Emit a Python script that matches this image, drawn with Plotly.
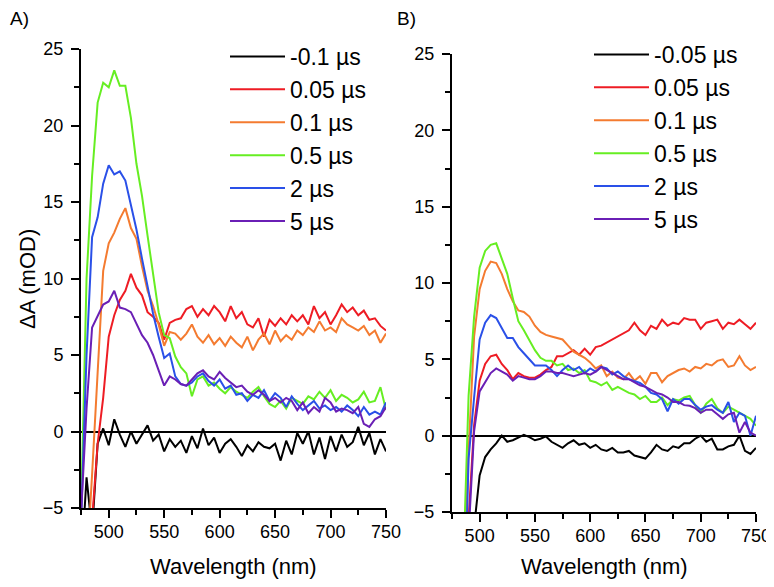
import plotly.graph_objects as go

# wavelength grid (nm)
wavelength = list(range(475, 755, 5))

# ---- Panel A ----
a_labels = ["-0.1 \u00b5s", "0.05 \u00b5s", "0.1 \u00b5s", "0.5 \u00b5s", "2 \u00b5s", "5 \u00b5s"]
a_m01 = [-9, -3.0, -6.5, -0.8, 0.2, -0.9, 0.8, -0.2, -1.0, 0.0, -0.8, -0.2, 0.4, -0.6, -0.2, -1.3,
         -0.5, -1.0, -0.6, -1.4, -0.3, -1.1, 0.2, -0.9, -0.4, -1.4, -0.8, -0.5, -1.0, -1.6, -0.9,
         -1.3, -0.7, -1.0, -1.1, -0.8, -1.9, -0.6, -1.5, -0.1, -0.8, 0.0, -1.5, -0.4, -1.8, -0.3,
         -1.3, -0.2, -1.0, -0.7, 0.3, -0.9, -0.1, -1.5, -0.5, -1.3]
a_005 = [-20, -12, -5.8, -0.8, 2.2, 6.2, 7.6, 8.6, 9.2, 10.3, 9.4, 8.9, 7.8, 7.5, 7.1, 6.0,
         7.1, 7.3, 7.4, 8.0, 8.2, 7.5, 8.0, 7.6, 8.2, 7.8, 7.2, 8.2, 7.4, 7.8, 7.0,
         6.8, 7.4, 6.2, 7.3, 6.9, 7.4, 7.0, 7.6, 7.2, 7.6, 7.0, 8.2, 7.4, 7.8, 7.0,
         7.6, 8.3, 7.8, 8.1, 7.6, 7.9, 7.3, 7.4, 6.9, 6.6]
a_01 = [-20, -9, -2.8, 3.8, 10.5, 12.3, 13.0, 13.9, 14.6, 13.3, 12.6, 10.8, 9.2, 8.2, 7.0, 5.6,
        6.5, 6.4, 6.0, 6.4, 7.0, 6.2, 5.8, 6.3, 5.7, 6.1, 5.6, 6.2, 5.8, 5.5, 6.2,
        5.3, 6.0, 6.4, 5.7, 6.6, 5.9, 6.3, 6.0, 6.6, 6.3, 6.8, 6.5, 7.2, 6.6, 6.8,
        6.5, 7.4, 7.0, 6.8, 6.6, 6.9, 6.3, 6.6, 5.8, 6.4]
a_05 = [-5.5, 10.0, 16.7, 21.5, 22.8, 22.5, 23.6, 22.6, 22.6, 20.5, 17.5, 15.4, 12.8, 10.2, 7.8, 6.3,
        6.1, 4.9, 4.2, 3.8, 2.3, 3.4, 3.6, 3.0, 3.2, 2.8, 2.5, 2.9, 2.6, 2.4, 2.2,
        2.6, 2.9, 2.3, 1.8, 1.6, 2.0, 1.5, 2.2, 2.0, 1.8, 2.3, 2.1, 2.6, 2.2, 2.7,
        2.0, 2.4, 2.2, 1.9, 2.1, 2.6, 1.9, 2.0, 2.9, 1.4]
a_2 = [-6, 5.0, 12.7, 14.0, 16.2, 17.4, 16.8, 17.0, 16.4, 14.8, 13.2, 11.3, 9.4, 7.7, 6.2, 4.8,
       5.1, 3.6, 3.1, 3.0, 3.2, 3.6, 3.8, 3.3, 3.0, 3.4, 2.8, 3.0, 2.4, 2.5, 2.0,
       2.4, 2.2, 2.7, 2.0, 2.5, 2.2, 1.6, 2.3, 1.8, 1.4, 1.7, 2.0, 1.5, 1.7, 1.4,
       1.6, 1.3, 1.7, 1.4, 1.0, 1.6, 1.1, 1.3, 1.1, 1.9]
a_5 = [-5.5, 1.5, 6.8, 7.5, 8.3, 8.5, 9.2, 8.1, 8.0, 7.8, 7.0, 6.3, 5.8, 5.0, 4.0, 3.0,
       3.6, 3.4, 3.1, 3.0, 3.4, 3.8, 4.0, 3.6, 3.4, 3.9, 3.5, 3.2, 2.9, 3.0, 2.6,
       2.4, 2.7, 2.4, 2.0, 2.2, 1.9, 2.2, 2.0, 1.4, 1.9, 1.2, 1.6, 1.3, 2.2, 1.9,
       1.3, 1.5, 1.4, 1.2, 1.6, 0.5, 0.3, 0.8, 1.0, 1.6]

# ---- Panel B ----
b_labels = ["-0.05 \u00b5s", "0.05 \u00b5s", "0.1 \u00b5s", "0.5 \u00b5s", "2 \u00b5s", "5 \u00b5s"]
b_m005 = [-20, -20, -20, -15, -6, -2.6, -1.4, -0.9, -0.5, 0.0, -0.4, -0.3, -0.1, 0.05, -0.1, -0.3,
          -0.2, -0.05, -0.4, -0.6, -0.8, -0.5, -0.3, -0.6, -0.5, -0.8, -0.6, -0.9, -1.0, -0.8, -1.1,
          -1.1, -1.0, -1.3, -1.4, -1.5, -1.1, -0.6, -0.9, -1.0, -0.7, -0.8, -0.5, -0.5, -0.2, 0.0,
          -0.4, -0.2, -0.9, -0.9, -0.7, -0.6, 0.0, -1.0, -1.2, -0.8]
b_005 = [-20, -20, -15, -5.5, 0.7, 3.6, 4.7, 5.2, 5.3, 4.7, 4.3, 3.7, 4.1, 3.9, 3.8, 3.8,
         4.0, 4.3, 4.5, 5.2, 5.2, 5.4, 5.6, 5.3, 5.7, 5.3, 5.8, 5.9, 6.1, 6.3, 6.5,
         6.75, 6.9, 7.4, 6.9, 6.6, 7.2, 7.0, 7.6, 7.2, 7.4, 7.3, 7.7, 7.6, 7.6, 7.0,
         7.4, 7.5, 7.6, 7.0, 7.4, 7.3, 7.6, 7.3, 7.0, 7.4]
b_01 = [-20, -20, -12, -1.0, 6.5, 9.6, 10.8, 11.4, 11.3, 10.6, 9.6, 8.8, 8.2, 8.1, 7.8, 7.2,
        6.8, 6.6, 6.5, 6.4, 6.3, 5.9, 5.5, 5.3, 5.1, 4.8, 4.4, 4.6, 3.9, 4.2, 3.8,
        3.7, 4.1, 3.6, 3.9, 3.4, 4.1, 4.1, 3.5, 3.9, 4.1, 4.3, 4.4, 4.2, 4.5, 4.4,
        4.7, 4.6, 4.9, 5.0, 4.5, 4.6, 5.2, 4.6, 4.3, 4.5]
b_05 = [-20, -20, -9, 2.6, 7.8, 11.0, 12.1, 12.5, 12.6, 11.6, 10.6, 9.0, 7.5, 6.9, 6.2, 5.6,
        5.1, 4.9, 4.9, 4.6, 4.7, 4.3, 4.4, 4.1, 4.3, 3.6, 3.5, 3.3, 3.5, 3.0, 3.2,
        3.0, 2.8, 2.7, 2.4, 2.6, 2.2, 2.2, 2.5, 2.0, 2.4, 2.3, 2.5, 2.6, 2.0, 1.5,
        2.1, 2.4, 1.8, 1.5, 1.9, 1.7, 1.5, 1.3, 1.1, 0.65]
b_2 = [-20, -20, -15, -1.5, 2.5, 6.3, 7.4, 7.9, 7.7, 7.0, 6.4, 6.4, 5.8, 5.4, 5.0, 4.6,
       4.6, 4.6, 4.3, 3.9, 4.3, 4.6, 4.3, 4.5, 4.1, 4.4, 4.2, 4.5, 4.4, 4.0, 4.2,
       3.9, 3.7, 3.6, 3.45, 3.2, 2.8, 2.7, 2.4, 1.6, 2.4, 2.1, 2.4, 2.4, 2.0, 1.7,
       1.9, 2.0, 1.7, 1.5, 2.2, 0.9, 1.5, 1.3, 0.0, 1.3]
b_5 = [-20, -20, -20, -6.5, 0.3, 2.9, 3.5, 4.1, 4.4, 4.2, 4.0, 3.6, 3.9, 3.8, 3.7, 3.7,
       3.9, 4.2, 4.2, 4.1, 4.1, 4.0, 3.9, 4.0, 4.1, 4.0, 4.2, 4.5, 4.3, 4.1, 3.9,
       3.7, 3.7, 3.5, 3.3, 3.2, 3.0, 2.8, 2.7, 2.5, 2.2, 2.2, 2.0, 1.96, 1.8, 1.5,
       1.7, 1.7, 1.4, 1.1, 1.4, 1.5, 0.2, 0.9, 0.2, 0.0]

colors = ["#000000", "#ee1c24", "#f47b30", "#66ee22", "#2a50e8", "#6a1fb5"]

a_series = [a_m01, a_005, a_01, a_05, a_2, a_5]
b_series = [b_m005, b_005, b_01, b_05, b_2, b_5]

fig = go.Figure()
for i, (lab, ys) in enumerate(zip(a_labels, a_series)):
    fig.add_trace(go.Scatter(x=wavelength, y=ys, mode="lines", name=lab,
                             line=dict(color=colors[i], width=2),
                             xaxis="x", yaxis="y", legend="legend",
                             legendgroup="a%d" % i))
for i, (lab, ys) in enumerate(zip(b_labels, b_series)):
    fig.add_trace(go.Scatter(x=wavelength, y=ys, mode="lines", name=lab,
                             line=dict(color=colors[i], width=2),
                             xaxis="x2", yaxis="y2", legend="legend2",
                             legendgroup="b%d" % i))

# The page puts the figure 8 px in from the top-left corner of the window,
# so the layout is laid out in window pixels minus that offset.
OFF = 8
W, H = 774 - OFF, 587 - OFF
font = "Arial, Liberation Sans, sans-serif"

def px(x):
    return (x - OFF) / W

def py(y):
    return 1 - (y - OFF) / H

def xax(domain, anchor):
    return dict(domain=domain, anchor=anchor, range=[475, 750], tick0=500, dtick=50,
                showline=True, linecolor="black", linewidth=2, ticks="outside",
                ticklen=8, tickwidth=1.5, tickcolor="black", showgrid=False,
                zeroline=False, tickfont=dict(size=18, color="black"),
                automargin=False, ticklabelstandoff=-2,
                minor=dict(dtick=25, tick0=475, ticks="outside", ticklen=5,
                           tickwidth=1.5, tickcolor="black", showgrid=False))

def yax(domain, anchor):
    return dict(domain=domain, anchor=anchor, range=[-5, 25], tick0=0, dtick=5,
                showline=True, linecolor="black", linewidth=2, ticks="outside",
                ticklen=8, tickwidth=1.5, tickcolor="black", showgrid=False,
                zeroline=True, zerolinecolor="black", zerolinewidth=1.5,
                tickfont=dict(size=18, color="black"),
                automargin=False, ticklabelstandoff=4,
                minor=dict(dtick=2.5, ticks="outside", ticklen=5,
                           tickwidth=1.5, tickcolor="black", showgrid=False))

legend_common = dict(font=dict(size=23, color="black", family=font),
                     bgcolor="rgba(0,0,0,0)", borderwidth=0, xanchor="left",
                     yanchor="top", tracegroupgap=0, itemwidth=55,
                     traceorder="normal")

fig.update_layout(
    width=W, height=H, margin=dict(l=0, r=0, t=0, b=0, pad=0, autoexpand=False),
    autosize=False,
    paper_bgcolor="white", plot_bgcolor="white",
    font=dict(family=font, color="black"),
    showlegend=True,
    xaxis=xax([px(81), px(386)], "y"),
    yaxis=yax([py(508), py(49)], "x"),
    xaxis2=xax([px(452), px(756)], "y2"),
    yaxis2=yax([py(512), py(54)], "x2"),
    legend=dict(x=px(225), y=py(35), **legend_common),
    legend2=dict(x=px(589), y=py(33), **legend_common),
    annotations=[
        dict(text="A)", x=0, y=py(18), xref="paper", yref="paper",
             xanchor="left", yanchor="middle", showarrow=False, font=dict(size=19)),
        dict(text="B)", x=px(395), y=py(18), xref="paper", yref="paper",
             xanchor="left", yanchor="middle", showarrow=False, font=dict(size=19)),
        dict(text="\u0394A (mOD)", x=px(27), y=py(279), xref="paper", yref="paper",
             xanchor="center", yanchor="middle", textangle=-90, showarrow=False,
             font=dict(size=22)),
        dict(text="Wavelength (nm)", x=px(233), y=py(566), xref="paper", yref="paper",
             xanchor="center", yanchor="middle", showarrow=False, font=dict(size=22)),
        dict(text="Wavelength (nm)", x=px(604), y=py(566), xref="paper", yref="paper",
             xanchor="center", yanchor="middle", showarrow=False, font=dict(size=22)),
    ],
)

fig.write_html("out.html")
